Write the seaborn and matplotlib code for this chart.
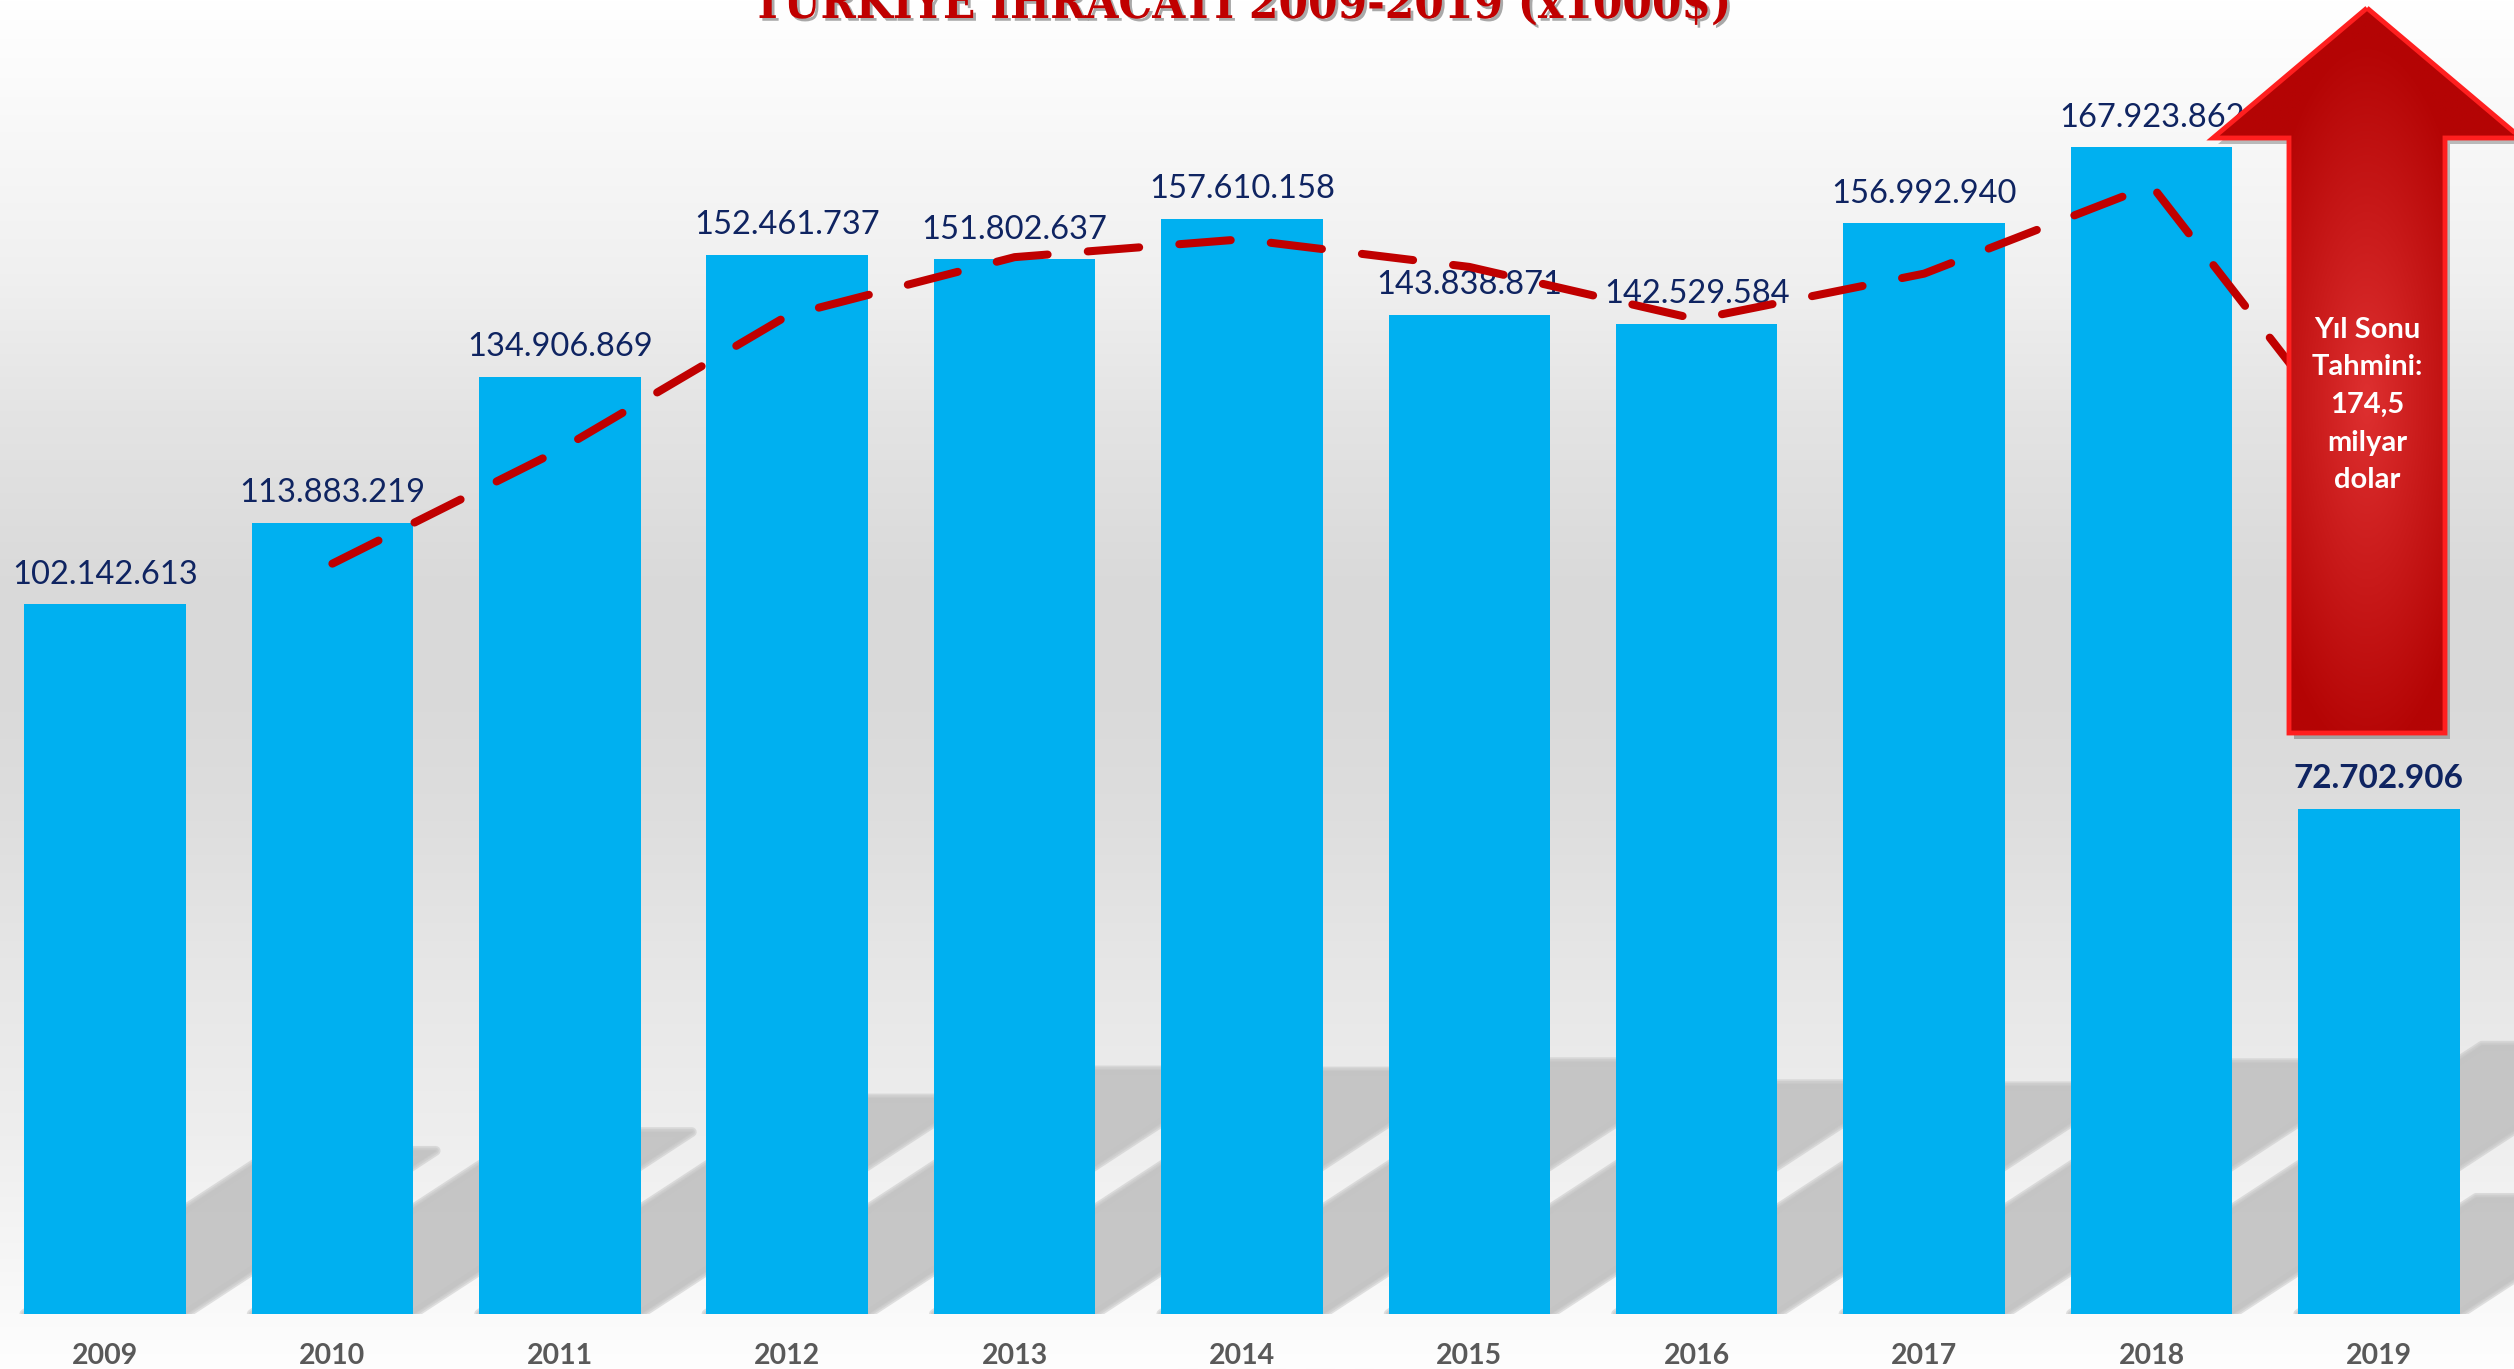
import numpy as np
import pandas as pd
import matplotlib
matplotlib.use("Agg")
import matplotlib.pyplot as plt
import matplotlib.patheffects as pe
from matplotlib.patches import Polygon
import seaborn as sns

# veriler (x1000 $)
years = ['2009', '2010', '2011', '2012', '2013', '2014', '2015', '2016', '2017', '2018', '2019']
exports = [102142613, 113883219, 134906869, 152461737, 151802637, 157610158,
           143838871, 142529584, 156992940, 167923862, 72702906]
title = 'TÜRKİYE İHRACATI 2009-2019 (x1000$)'
forecast_text = 'Yıl Sonu\nTahmini:\n174,5\nmilyar\ndolar'

df = pd.DataFrame({'yil': years, 'ihracat': exports})
# Excel'deki 2 dönemlik hareketli ortalama trend çizgisi
df['ort'] = df['ihracat'].rolling(2).mean()

BLUE = '#00B0F0'
RED = '#C00000'
NAVY = '#0F2461'

sns.set_theme(style='white')
plt.rcParams['font.family'] = ['Lato', 'DejaVu Sans']

W, H = 2514, 1369
fig = plt.figure(figsize=(W / 100, H / 100), dpi=100)

# arka plan gradyanı
bg = fig.add_axes([0, 0, 1, 1], zorder=0)
pos = [0, 0.07, 0.2, 0.3, 0.42, 0.5, 0.6, 0.7, 0.83, 0.92, 1.0]
lev = [255, 250, 240, 228, 218, 217, 222, 230, 238, 246, 254]
g = np.interp(np.linspace(0, 1, 500), pos, lev) / 255
img = np.repeat(g[:, None, None], 3, axis=2)
bg.imshow(img, aspect='auto', extent=[0, 1, 0, 1])
bg.axis('off')

# ana grafik
ax = fig.add_axes([0, 55 / H, 1, 1 - 55 / H], zorder=1)
ax.patch.set_alpha(0)

bar_w = 0.71
# çubuk gölgeleri (yumuşak kenar için katmanlı)
k = 0.0468e-6
for i, v in enumerate(df['ihracat']):
    hs = 0.23 * v
    xl, xr = i - bar_w / 2, i + bar_w / 2
    pts = [(xl, 0), (xr, 0), (xr + k * hs, hs), (xl + k * hs, hs)]
    for lw in [7, 4.5, 2, 0]:
        ax.add_patch(Polygon(pts, closed=True, facecolor='#C4C4C4', edgecolor='#C4C4C4',
                             lw=lw, alpha=0.5, zorder=1, joinstyle='round'))

sns.barplot(data=df, x='yil', y='ihracat', color=BLUE, saturation=1, width=bar_w,
            errorbar=None, linewidth=0, edgecolor=BLUE, ax=ax, zorder=2)

ax.plot(df.index, df['ort'], color=RED, lw=5.8, dashes=(6.4, 5.0),
        dash_capstyle='round', solid_capstyle='round', zorder=4)

for i, v in enumerate(df['ihracat']):
    last = i == len(df) - 1
    ax.annotate(f'{v:,}'.replace(',', '.'), (i, v), xytext=(0, 15),
                textcoords='offset points', ha='center', va='baseline',
                fontsize=24 if last else 23.5, color=NAVY,
                fontweight='bold' if last else 'normal', zorder=3)

ax.set_xlim(-0.4617, 10.594)
ax.set_ylim(0, 189.15e6)
ax.set_xlabel('')
ax.set_ylabel('')
ax.set_yticks([])
ax.set_xticks(range(len(years)))
ax.set_xticklabels(years, fontsize=20.5, fontweight='bold', color='#595959')
ax.tick_params(axis='x', length=0, pad=21)
sns.despine(ax=ax, left=True, bottom=True)

# üst katman: ok ve başlık (piksel koordinatları)
ov = fig.add_axes([0, 0, 1, 1], zorder=5)
ov.set_xlim(0, W)
ov.set_ylim(H, 0)
ov.axis('off')
ov.patch.set_alpha(0)

arrow_pts = [(2367, 8), (2521, 138), (2445, 138), (2445, 733),
             (2289, 733), (2289, 138), (2213, 138)]
shadow = Polygon([(x + 5, y + 6) for x, y in arrow_pts], closed=True,
                 facecolor='black', alpha=0.25, edgecolor='none', zorder=1)
ov.add_patch(shadow)
arrow = Polygon(arrow_pts, closed=True, facecolor='none', edgecolor='#FF1F1F',
                lw=3.5, zorder=3, joinstyle='miter')
ov.add_patch(arrow)

gx, gy = np.meshgrid(np.linspace(2200, 2530, 200), np.linspace(0, 740, 300))
r = np.sqrt(((gx - 2367) / 115) ** 2 + ((gy - 400) / 360) ** 2)
t = np.clip(1 - r, 0, 1)
dark = np.array([180, 4, 4]) / 255
light = np.array([222, 48, 48]) / 255
grad = dark + (light - dark) * t[..., None]
im = ov.imshow(grad, extent=[2200, 2530, 740, 0], aspect='auto', zorder=2)
im.set_clip_path(Polygon(arrow_pts, closed=True, transform=ov.transData))

ov.text(2367, 405, forecast_text, ha='center', va='center', color='white',
        fontsize=21, fontweight='bold', linespacing=1.55, zorder=4)

tt = ov.text(1242, 18, title, ha='center', va='baseline', color=RED,
             fontsize=40, fontweight='bold', fontstretch='condensed',
             family=['DejaVu Serif', 'DejaVu Sans'],
             path_effects=[pe.SimplePatchShadow(offset=(2, -2), shadow_rgbFace='#555555', alpha=0.5),
                           pe.Normal()])
fig.canvas.draw()
bw = tt.get_window_extent().width
tt.set_fontsize(40 * 979 / bw)

fig.savefig('out.png', dpi=100)
